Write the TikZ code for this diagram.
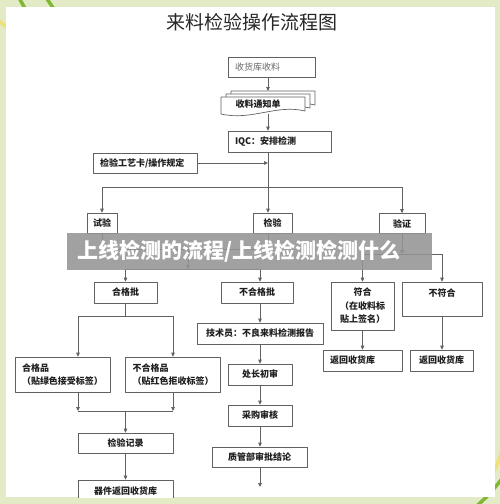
\documentclass[tikz,border=0pt]{standalone}
\usepackage{fontspec}
\setmainfont{Noto Sans CJK SC}
\usetikzlibrary{arrows.meta}

\begin{document}
\begin{tikzpicture}[x=1pt,y=-1pt,>={Triangle[length=4pt,width=3.6pt]},line join=round]
  % Colors
  \definecolor{framecolor}{RGB}{226,235,198}
  \definecolor{stalkcolor}{RGB}{128,184,52}
  \definecolor{strawcolor}{RGB}{236,226,120}
  \colorlet{linecolor}{black!62}
  \colorlet{boxtextcolor}{black!88}

  % Styles
  \tikzstyle{box}=[draw=linecolor,fill=white,line width=0.7pt,minimum height=20pt,inner sep=0pt,
    font=\fontsize{9}{13.5}\selectfont\bfseries,text=boxtextcolor]
  \tikzstyle{left box}=[box,align=left,inner xsep=7pt]
  \tikzstyle{page}=[draw=linecolor,fill=white,line width=0.7pt]
  \tikzstyle{flow}=[->,draw=linecolor,line width=0.7pt]
  \tikzstyle{join line}=[draw=linecolor,line width=0.7pt]
  \tikzstyle{stalk}=[line width=3.5pt,line cap=round]
  \tikzstyle{banner}=[fill=black!42,fill opacity=0.88,text opacity=1,text=white,
    font=\fontsize{21}{24}\selectfont\bfseries]

  % Frame
  \useasboundingbox (0,0) rectangle (500,504);
  \fill[framecolor] (0,0) rectangle (500,504);
  \draw[stalk,stalkcolor] (18,-4) -- (27,12);
  \draw[stalk,stalkcolor] (45,-4) -- (56,12);
  \draw[stalk,strawcolor] (-2,20) -- (10,30);
  \draw[stalk,strawcolor] (502,452) -- (490,482);
  \draw[stalk,stalkcolor] (470,512) .. controls (488,496) .. (506,474);
  \fill[white] (6,7) rectangle (495,497);

  % Columns of the chart
  \coordinate (spine) at (268,0);
  \coordinate (col) at (260,0);
  \coordinate (leftcol) at (78,0);

  \node[font=\fontsize{19}{22}\selectfont,text=black!85] (title) at (252,22) {来料检验操作流程图};

  % Receipt and notice
  \node[left box,text width=73pt,font=\fontsize{9}{12}\selectfont,text=black!60] (receive) at (271.5,67) {收货库收料};

  \foreach \dx/\dy in {10/-6,5/-3,0/0}
    \draw[page] ({221+\dx},{97+\dy}) -- ({305+\dx},{97+\dy}) -- ({305+\dx},{111+\dy})
      .. controls ({276+\dx},{104+\dy}) and ({252+\dx},{121+\dy}) .. ({221+\dx},{114+\dy}) -- cycle;
  \node[font=\fontsize{9}{12}\selectfont\bfseries,text=boxtextcolor] (notice) at (258,104) {收料通知单};
  \coordinate (pagetop) at (268,91);
  \coordinate (pagebottom) at (268,114);

  \node[left box,text width=89pt,minimum height=21pt] (iqc) at (279.5,141.5) {IQC：安排检测};
  \node[left box,text width=90pt] (guide) at (145,163) {检验工艺卡/操作规定};

  \draw[flow] (receive.south -| spine) -- (pagetop);
  \draw[flow] (pagebottom) -- (iqc.south |- iqc.north -| spine);

  % Three kinds of check
  \node[box,minimum width=30pt] (trial) at (102,223) {试验};
  \node[box,minimum width=39pt] (inspect) at (272.5,223) {检验};
  \node[box,minimum width=46pt] (verify) at (402,223.5) {验证};

  \coordinate (split) at (268,187);
  \draw[join line] (iqc.south -| spine) -- (split);
  \draw[flow] (guide.east) -- (guide.east -| spine);
  \draw[join line] (trial.north |- split) -- (verify.north |- split);
  \draw[flow] (trial.north |- split) -- (trial.north);
  \draw[flow] (split) -- (spine |- inspect.north);
  \draw[flow] (verify.north |- split) -- (verify.north);

  % Lots
  \node[box,minimum width=63pt,minimum height=21pt] (goodlot) at (125.5,292.5) {合格批};
  \node[box,minimum width=72pt,minimum height=21pt] (badlot) at (257,292.5) {不合格批};
  \node[box,minimum width=63pt,minimum height=48pt,align=center] (pass) at (362.5,306) {符合\\（在收料标\\贴上签名）};
  \node[box,minimum width=80pt,minimum height=34pt,align=center] (fail) at (442,299) {不符合\\ \mbox{}};

  \coordinate (merge) at (188,249);
  \coordinate (lotsplit) at (188,269);
  \coordinate (checksplit) at (402,254);
  \draw[join line] (trial.south) -- (trial.south |- merge) -- (spine |- merge) -- (spine |- inspect.south);
  \draw[flow] (merge) -- (lotsplit);
  \draw[join line] (goodlot.north |- lotsplit) -- (col |- lotsplit);
  \draw[flow] (goodlot.north |- lotsplit) -- (goodlot.north);
  \draw[flow] (col |- lotsplit) -- (col |- badlot.north);
  \draw[flow] (verify.south) -- (checksplit);
  \draw[join line] (pass.north |- checksplit) -- (fail.north |- checksplit);
  \draw[flow] (pass.north |- checksplit) -- (pass.north);
  \draw[flow] (fail.north |- checksplit) -- (fail.north);

  % Good lot
  \node[left box,text width=81pt,minimum height=35pt] (goodpart) at (62.5,374.5) {合格品\\（贴绿色接受标签）};
  \node[left box,text width=81pt,minimum height=35pt] (badpart) at (173,374.5) {不合格品\\（贴红色拒收标签）};
  \node[box,minimum width=95pt] (record) at (125.5,443) {检验记录};

  \coordinate (gradesplit) at (125.5,316);
  \coordinate (recjoin) at (125.5,411);
  \draw[join line] (goodlot.south) -- (gradesplit);
  \draw[join line] (leftcol |- gradesplit) -- (badpart.north |- gradesplit);
  \draw[flow] (leftcol |- gradesplit) -- (leftcol |- goodpart.north);
  \draw[flow] (badpart.north |- gradesplit) -- (badpart.north);
  \draw[flow] (leftcol |- goodpart.south) -- (leftcol |- recjoin);
  \draw[flow] (badpart.south) -- (badpart.south |- recjoin);
  \draw[join line] (leftcol |- recjoin) -- (badpart.south |- recjoin);
  \draw[flow] (recjoin) -- (record.north);

  \begin{scope}
    \clip (6,7) rectangle (495,497);
    \node[box,minimum width=95pt,minimum height=22pt] (toreceive) at (125.5,491) {器件返回收货库};
  \end{scope}
  \draw[flow] (record.south) -- (toreceive.north);

  % Bad lot
  \node[box,minimum width=126pt,minimum height=21pt] (report) at (260,333.5) {技术员：不良来料检测报告};
  \node[box,minimum width=64pt,minimum height=21pt] (chief) at (260,374.5) {处长初审};
  \node[box,minimum width=64pt,minimum height=21pt] (purchase) at (260,415.5) {采购审核};
  \node[box,minimum width=95pt] (quality) at (259.5,457) {质管部审批结论};
  \coordinate (tail) at (260,487);

  \draw[flow] (col |- badlot.south) -- (report.north);
  \draw[flow] (report.south) -- (chief.north);
  \draw[flow] (chief.south) -- (purchase.north);
  \draw[flow] (purchase.south) -- (col |- quality.north);
  \draw[flow] (col |- quality.south) -- (tail);

  % Verification
  \node[left box,text width=65pt,minimum height=21pt] (back1) at (362.5,360.5) {返回收货库};
  \node[box,minimum width=63pt,minimum height=21pt] (back2) at (441.5,360.5) {返回收货库};
  \draw[flow] (pass.south) -- (back1.north);
  \draw[flow] (fail.south) -- (fail.south |- back2.north);

  % Overlay
  \node[banner,anchor=west,text width=345pt,inner xsep=10pt,align=left,minimum height=37pt] (caption) at (67,251.5)
    {上线检测的流程/上线检测检测什么};
\end{tikzpicture}
\end{document}
